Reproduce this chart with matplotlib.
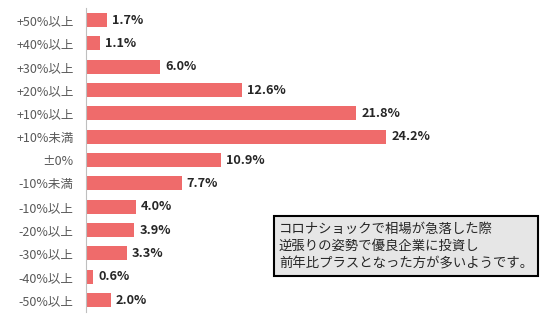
import matplotlib
matplotlib.use("Agg")
import matplotlib.pyplot as plt

plt.rcParams['font.family'] = ['Noto Sans CJK JP', 'DejaVu Sans']

# categories top to bottom
categories = ['+50%以上', '+40%以上', '+30%以上', '+20%以上', '+10%以上', '+10%未満',
              '±0%', '-10%未満', '-10%以上', '-20%以上', '-30%以上', '-40%以上', '-50%以上']
values = [1.7, 1.1, 6.0, 12.6, 21.8, 24.2, 10.9, 7.7, 4.0, 3.9, 3.3, 0.6, 2.0]
note = 'コロナショックで相場が急落した際\n逆張りの姿勢で優良企業に投資し\n前年比プラスとなった方が多いようです。'

fig = plt.figure(figsize=(5.48, 3.24), dpi=100)
ax = fig.add_axes([86 / 548, 0.038, 454 / 548, 0.936])

pos = list(range(len(categories)))
ax.barh(pos, values, height=0.6, color='#ef6b6b')
ax.set_ylim(len(categories) - 0.5, -0.5)
ax.set_xlim(0, 36.6)
ax.set_yticks(pos)
ax.set_yticklabels(categories, fontsize=9, color='#595959')
ax.tick_params(axis='y', length=0, pad=9)
ax.set_xticks([])

for s in ['top', 'right', 'bottom']:
    ax.spines[s].set_visible(False)
ax.spines['left'].set_color('#bfbfbf')

for p, v in zip(pos, values):
    ax.text(v + 0.4, p, f'{v:.1f}%', va='center', ha='left',
            fontsize=9.2, fontweight='bold', color='#262626')

fig.text(279 / 548, 1 - 246 / 324, note, ha='left', va='center', fontsize=9.6,
         color='#262626', linespacing=1.3,
         bbox=dict(boxstyle='square,pad=0.4', facecolor='#e6e6e6',
                   edgecolor='black', linewidth=1.5))

fig.savefig('out.png', dpi=100)
